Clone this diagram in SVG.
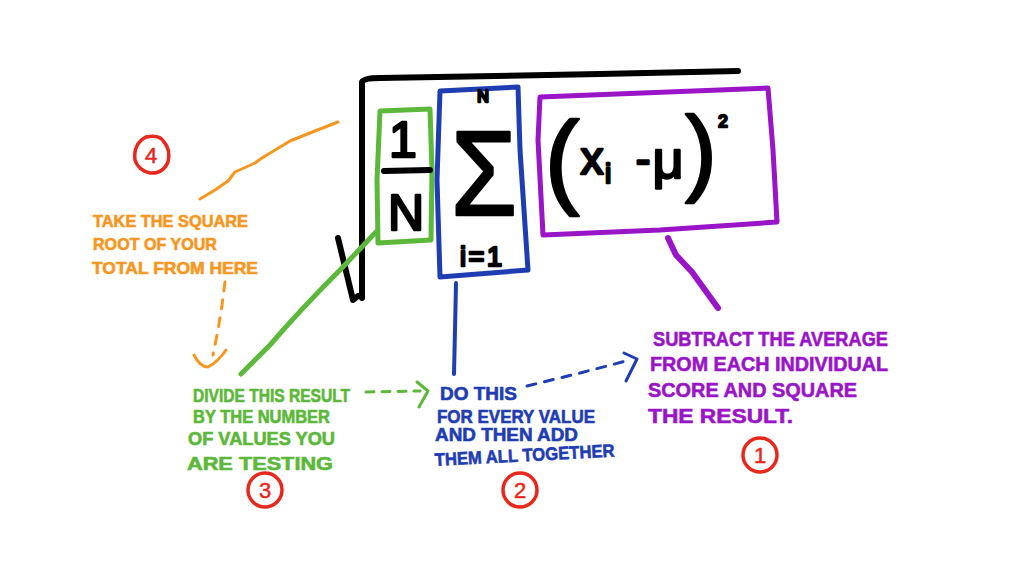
<svg xmlns="http://www.w3.org/2000/svg" width="1024" height="572" viewBox="0 0 1024 572">
<defs>
<style>
.ink{fill:none;stroke-linecap:round;stroke-linejoin:round}
.k{stroke:#000;stroke-width:6}
.g{stroke:#5cb83a}
.b{stroke:#1f3db3}
.p{stroke:#9a14c8}
.o{stroke:#f7961e}
.r{stroke:#e8281c;stroke-width:3.5;fill:none}
.m{font-family:"Liberation Sans",Arial,sans-serif;font-weight:normal;fill:#000;stroke:#000;stroke-width:2.5;stroke-linejoin:round;text-anchor:middle}
.t{font-family:"Liberation Sans",Arial,sans-serif;font-weight:bold;stroke-width:0.6}
.num{font-family:"Liberation Sans",Arial,sans-serif;font-size:22px;fill:#e8281c;stroke:#e8281c;stroke-width:0.5;text-anchor:middle}
</style>
</defs>
<rect width="1024" height="572" fill="#fff"/>

<g id="radical">
<path class="ink k" d="M338,238 L353,300 L358,296 M362,298 L362,82 Q364,78 380,78 L600,74 L738,71"/>
</g>

<g id="box-fraction">
<path class="ink g" stroke-width="5" d="M380,111 L430,109 L432,170 L431,240 L378,243 L377,180 Z"/>
<text class="m" x="403" y="157" font-size="50">1</text>
<path class="ink k" d="M384,171 L430,170"/>
<text class="m" x="406" y="230" font-size="50">N</text>
</g>

<g id="box-sum">
<path class="ink b" stroke-width="5" d="M440,91 L518,87 L520,150 L528,270 L440,277 L437,180 Z"/>
<text class="m" x="483" y="102" font-size="16" stroke-width="1.5">N</text>
<text class="m" x="484" y="215" font-size="120" textLength="66" lengthAdjust="spacingAndGlyphs" stroke-width="3">Σ</text>
<text class="m" x="481" y="266" font-size="27" stroke-width="2" textLength="42" lengthAdjust="spacing">i=1</text>
</g>

<g id="box-term">
<path class="ink p" stroke-width="5" d="M540,97 L768,88 L773,150 L777,222 L660,230 L543,235 L538,140 Z"/>
<text class="m" x="562" y="194" font-size="104" stroke-width="3">(</text>
<text class="m" x="592" y="174" font-size="46">x</text>
<text class="m" x="608" y="183" font-size="28">i</text>
<text class="m" x="643" y="174" font-size="44">-</text>
<text class="m" x="668" y="178" font-size="54">μ</text>
<text class="m" x="701" y="183" font-size="94" stroke-width="3">)</text>
<text class="m" x="723" y="127" font-size="17" stroke-width="1.5">2</text>
</g>

<g id="connectors">
<path class="ink o" stroke-width="3" d="M200,199 L215,190 L228,181 L235,172 L255,163 L262,158 L290,141 L315,131 L338,122"/>
<path class="ink o" stroke-width="3" stroke-dasharray="9 9" d="M225,282 L222,305 L218,330 L213,355"/>
<path class="ink o" stroke-width="3" d="M194,355 Q200,367 208,367 Q218,362 226,350"/>
<path class="ink g" stroke-width="5" d="M376,232 L340,270 Q300,310 270,345 L241,374"/>
<path class="ink g" stroke-width="3" stroke-dasharray="8 8" d="M366,392 L420,391"/>
<path class="ink g" stroke-width="3" d="M417,382 L428,391 L419,407"/>
<path class="ink b" stroke-width="4" d="M456,283 L455,330 L454,374"/>
<path class="ink b" stroke-width="3" stroke-dasharray="9 9" d="M527,386 L580,373 L630,360"/>
<path class="ink b" stroke-width="3" d="M624,353 L637,359 L626,381"/>
<path class="ink p" stroke-width="6" d="M668,238 L676,255 L692,272 L718,308"/>
</g>

<g id="note-4" class="t" fill="#f7961e" stroke="#f7961e" font-size="17">
<text x="93" y="227" textLength="155" lengthAdjust="spacingAndGlyphs">TAKE THE SQUARE</text>
<text x="93" y="250" textLength="124" lengthAdjust="spacingAndGlyphs">ROOT OF YOUR</text>
<text x="92" y="274" textLength="166" lengthAdjust="spacingAndGlyphs">TOTAL FROM HERE</text>
</g>

<g id="note-3" class="t" fill="#5cb83a" stroke="#5cb83a" font-size="18">
<text x="193" y="402" textLength="157" lengthAdjust="spacingAndGlyphs">DIVIDE THIS RESULT</text>
<text x="193" y="423" textLength="137" lengthAdjust="spacingAndGlyphs">BY THE NUMBER</text>
<text x="188" y="445" textLength="147" lengthAdjust="spacingAndGlyphs">OF VALUES YOU</text>
<text x="187" y="470" textLength="146" lengthAdjust="spacingAndGlyphs">ARE TESTING</text>
</g>

<g id="note-2" class="t" fill="#1f3db3" stroke="#1f3db3" font-size="18">
<text x="440" y="400" textLength="77" lengthAdjust="spacingAndGlyphs">DO THIS</text>
<text x="437" y="423" textLength="158" lengthAdjust="spacingAndGlyphs">FOR EVERY VALUE</text>
<text x="435" y="441" textLength="143" lengthAdjust="spacingAndGlyphs">AND THEN ADD</text>
<text x="435" y="466" textLength="180" lengthAdjust="spacingAndGlyphs" transform="rotate(-3 435 466)">THEM ALL TOGETHER</text>
</g>

<g id="note-1" class="t" fill="#9a14c8" stroke="#9a14c8" font-size="21">
<text x="653" y="346" textLength="235" lengthAdjust="spacingAndGlyphs">SUBTRACT THE AVERAGE</text>
<text x="650" y="371" textLength="238" lengthAdjust="spacingAndGlyphs">FROM EACH INDIVIDUAL</text>
<text x="648" y="397" textLength="209" lengthAdjust="spacingAndGlyphs">SCORE AND SQUARE</text>
<text x="648" y="423" textLength="145" lengthAdjust="spacingAndGlyphs">THE RESULT.</text>
</g>

<g id="badge-4">
<path class="r" d="M146,137 Q160,134 164,142 Q171,150 168,162 Q163,174 150,173 Q138,170 135,160 Q133,144 146,137 Z"/>
<text class="num" x="151" y="163">4</text>
</g>
<g id="badge-3">
<circle class="r" cx="265" cy="490" r="17"/>
<text class="num" x="265" y="498">3</text>
</g>
<g id="badge-2">
<circle class="r" cx="520" cy="490" r="17"/>
<text class="num" x="520" y="498">2</text>
</g>
<g id="badge-1">
<circle class="r" cx="760" cy="455" r="17"/>
<text class="num" x="760" y="463">1</text>
</g>
</svg>
